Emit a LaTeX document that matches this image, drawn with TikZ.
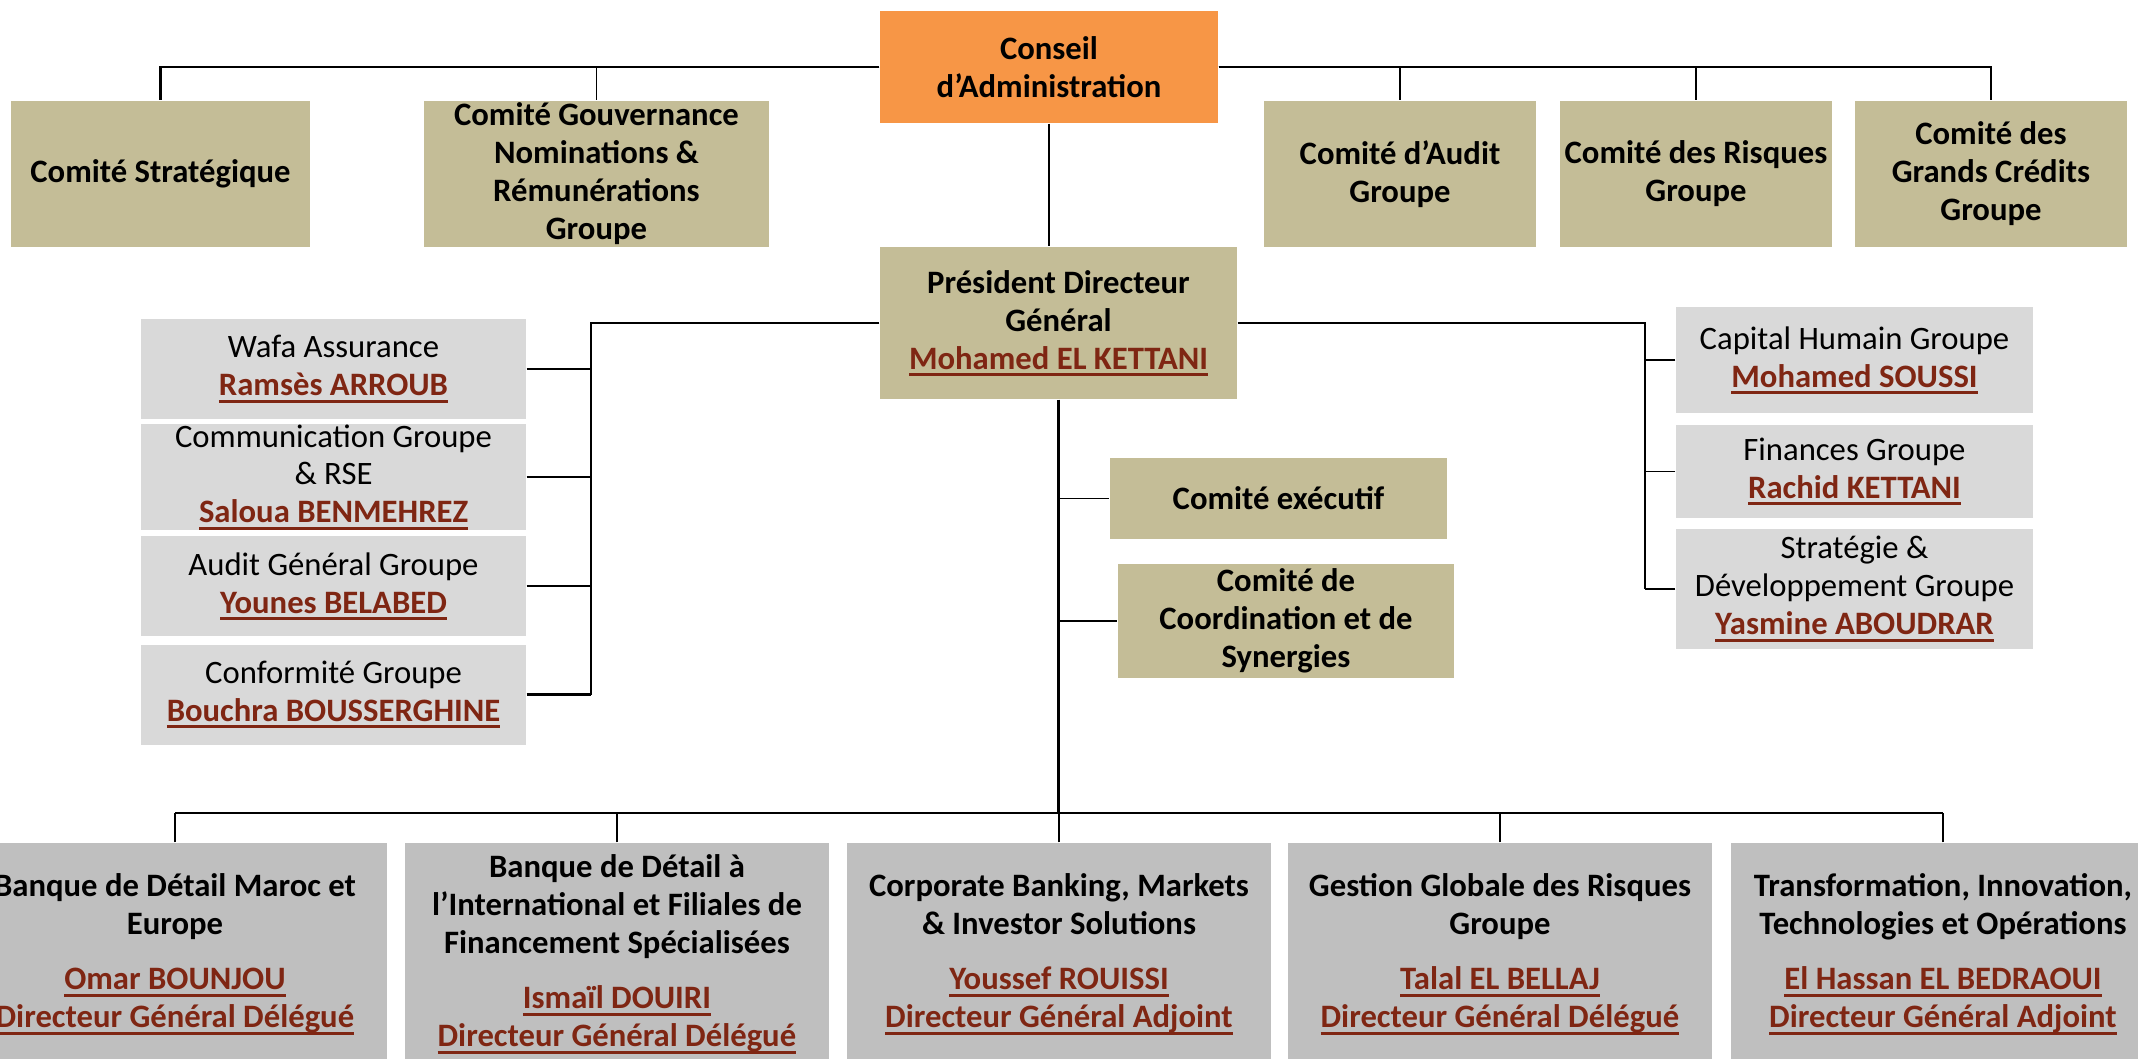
\documentclass[tikz,border=0pt]{standalone}
\usepackage{fontspec}
\setmainfont{Carlito}
\usepackage{tikz}
\usepackage{xcolor}
\usetikzlibrary{positioning}
\definecolor{boardorange}{HTML}{F79646}
\definecolor{comtan}{HTML}{C4BD97}
\definecolor{stafflight}{HTML}{D9D9D9}
\definecolor{divgrey}{HTML}{BFBFBF}
\definecolor{namered}{HTML}{7F2613}
\newcommand{\uname}[1]{{\color{namered}\bfseries\setbox0\hbox{#1}\leavevmode\rlap{\rule[-1.9pt]{\wd0}{0.75pt}}\box0}}

\begin{document}
\begin{tikzpicture}[
      board/.style={fill=boardorange, inner sep=0pt, minimum height=1.12cm, minimum width=3.38cm, align=center, font=\fontsize{9.3}{10.8}\selectfont\bfseries},
      committee/.style={fill=comtan, inner sep=0pt, minimum height=1.46cm, minimum width=2.72cm, align=center, font=\fontsize{9.3}{10.8}\selectfont\bfseries},
      chief/.style={fill=comtan, inner sep=0pt, minimum height=1.52cm, minimum width=3.57cm, align=center, font=\fontsize{9.3}{10.8}\selectfont\bfseries},
      staff/.style={fill=stafflight, inner sep=0pt, minimum height=1.0cm, minimum width=3.85cm, align=center, font=\fontsize{9.3}{10.8}\selectfont},
      division/.style={fill=divgrey, inner sep=0pt, minimum height=2.22cm, minimum width=4.24cm, align=center, font=\fontsize{9.3}{10.8}\selectfont\bfseries},
      link/.style={line width=0.6pt},
      tap/.style={line width=0.45pt}
  ]
    \useasboundingbox (0,0) rectangle (21.38,-10.58);
    \clip (0,0) rectangle (21.38,-10.58);

    % board and its committees
    \node[board] (conseil) at (10.49,-0.67) {Conseil\\d'Administration};
    \node[committee, minimum width=2.99cm] (strat) at (1.605,-1.74) {Comité Stratégique};
    \node[committee, minimum width=3.45cm] (gouv) at (5.965,-1.74) {Comité Gouvernance\\Nominations \&\\Rémunérations\\Groupe};
    \node[committee] (audit) at (14.00,-1.74) {Comité d'Audit\\Groupe};
    \node[committee] (risk) at (16.96,-1.74) {Comité des Risques\\Groupe};
    \node[committee] (credit) at (19.91,-1.74) {Comité des\\Grands Crédits\\Groupe};
    \draw[link] (conseil.west) -| (strat.north);
    \draw[tap] (conseil.west) -| (gouv.north);
    \draw[link] (conseil.east) -| (credit.north);
    \draw[tap] (conseil.east) -| (audit.north);
    \draw[tap] (conseil.east) -| (risk.north);

    % president
    \node[chief] (pdg) at (10.585,-3.23) {Président Directeur\\Général\\\uname{Mohamed EL KETTANI}};
    \draw[link] (conseil.south) -- (conseil.south |- pdg.north);

    % staff on the left
    \coordinate (lbus) at (5.91,-3.23);
    \node[staff] (wafa) at (3.335,-3.69) {Wafa Assurance\\\uname{Ramsès ARROUB}};
    \node[staff] (comm) at (3.335,-4.77) {Communication Groupe\\\& RSE\\\uname{Saloua BENMEHREZ}};
    \node[staff] (audg) at (3.335,-5.86) {Audit Général Groupe\\\uname{Younes BELABED}};
    \node[staff] (conf) at (3.335,-6.945) {Conformité Groupe\\\uname{Bouchra BOUSSERGHINE}};
    \draw[link] (pdg.west) -- (lbus) -- (lbus |- conf.east);
    \foreach \s in {wafa,comm,audg,conf}
      \draw[link] (\s.east) -- (\s.east -| lbus);

    % staff on the right
    \coordinate (rbus) at (16.45,-3.23);
    \node[staff, minimum width=3.57cm, minimum height=1.06cm] (capital) at (18.545,-3.60) {Capital Humain Groupe\\\uname{Mohamed SOUSSI}};
    \node[staff, minimum width=3.57cm, minimum height=0.93cm] (fin) at (18.545,-4.715) {Finances Groupe\\\uname{Rachid KETTANI}};
    \node[staff, minimum width=3.57cm, minimum height=1.20cm] (dev) at (18.545,-5.89) {Stratégie \&\\Développement Groupe\\\uname{Yasmine ABOUDRAR}};
    \draw[link] (pdg.east) -- (rbus) -- (rbus |- dev.west);
    \foreach \s in {capital,fin,dev}
      \draw[tap] (\s.west) -- (\s.west -| rbus);

    % executive committees
    \node[committee, minimum width=3.37cm, minimum height=0.81cm] (exec) at (12.785,-4.985) {Comité exécutif};
    \node[committee, minimum width=3.36cm, minimum height=1.14cm] (coord) at (12.86,-6.21) {Comité de\\Coordination et de\\Synergies};
    \draw[tap] (pdg.south |- exec.west) -- (exec.west);
    \draw[tap] (pdg.south |- coord.west) -- (coord.west);

    % divisions
    \coordinate (bbus) at (10.585,-8.13);
    \node[division] (retail) at (1.75,-9.54) {Banque de Détail Maroc et\\Europe\\[5pt]\uname{Omar BOUNJOU}\\\uname{Directeur Général Délégué}};
    \node[division] (intl) at (6.17,-9.54) {Banque de Détail à\\l'International et Filiales de\\Financement Spécialisées\\[5pt]\uname{Ismaïl DOUIRI}\\\uname{Directeur Général Délégué}};
    \node[division] (cib) at (10.59,-9.54) {Corporate Banking, Markets\\\& Investor Solutions\\[5pt]\uname{Youssef ROUISSI}\\\uname{Directeur Général Adjoint}};
    \node[division] (ggr) at (15.00,-9.54) {Gestion Globale des Risques\\Groupe\\[5pt]\uname{Talal EL BELLAJ}\\\uname{Directeur Général Délégué}};
    \node[division] (tito) at (19.43,-9.54) {Transformation, Innovation,\\Technologies et Opérations\\[5pt]\uname{El Hassan EL BEDRAOUI}\\\uname{Directeur Général Adjoint}};
    \draw[link] (pdg.south) -- (bbus);
    \draw[link] (retail.north |- bbus) -- (tito.north |- bbus);
    \foreach \d in {retail,intl,cib,ggr,tito}
      \draw[tap] (\d.north) -- (\d.north |- bbus);
  \end{tikzpicture}
\end{document}
